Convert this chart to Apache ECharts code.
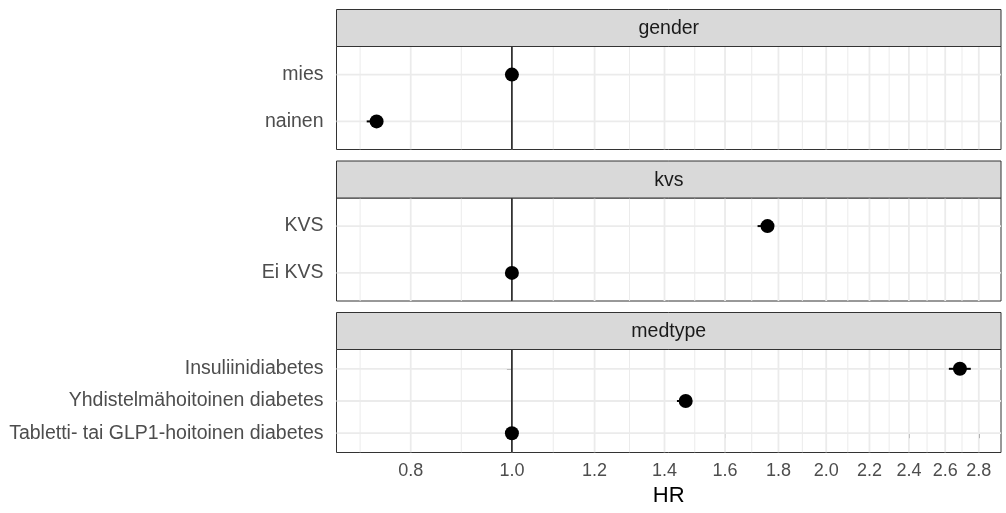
<!DOCTYPE html>
<html>
<head>
<meta charset="utf-8">
<script src="https://cdn.jsdelivr.net/npm/echarts@6/dist/echarts.min.js"></script>
<style>
  html, body { margin: 0; padding: 0; background: #ffffff; }
  #chart { width: 1006px; height: 513px; }
</style>
</head>
<body>
<div id="chart"></div>
<script>
// Hazard ratios with confidence limits, one facet per covariate
const panelNames = ['gender', 'kvs', 'medtype'];

const genderLevels = ['nainen', 'mies'];
const genderHR   = [0.742, 1.0];
const genderLow  = [0.726, 1.0];
const genderHigh = [0.752, 1.0];

const kvsLevels = ['Ei KVS', 'KVS'];
const kvsHR   = [1.0, 1.757];
const kvsLow  = [1.0, 1.719];
const kvsHigh = [1.0, 1.78];

const medLevels = ['Tabletti- tai GLP1-hoitoinen diabetes', 'Yhdistelmähoitoinen diabetes', 'Insuliinidiabetes'];
const medHR   = [1.0, 1.467, 2.686];
const medLow  = [1.0, 1.439, 2.621];
const medHigh = [1.0, 1.487, 2.751];

const hrTicks = [0.8, 1.0, 1.2, 1.4, 1.6, 1.8, 2.0, 2.2, 2.4, 2.6, 2.8];

const panels = [
  { name: panelNames[0], levels: genderLevels, hr: genderHR, lo: genderLow, hi: genderHigh },
  { name: panelNames[1], levels: kvsLevels, hr: kvsHR, lo: kvsLow, hi: kvsHigh },
  { name: panelNames[2], levels: medLevels, hr: medHR, lo: medLow, hi: medHigh }
];

// log-scale x axis: everything is plotted as ln(HR)
const ln = Math.log;
const allLo = [].concat(genderLow, kvsLow, medLow).map(ln);
const allHi = [].concat(genderHigh, kvsHigh, medHigh).map(ln);
const dMin = Math.min.apply(null, allLo), dMax = Math.max.apply(null, allHi);
const pad = (dMax - dMin) * 0.05;
const xMin = dMin - pad, xMax = dMax + pad;

const majorLn = hrTicks.map(ln);
const minorLn = [];
minorLn.push(majorLn[0] - (majorLn[1] - majorLn[0]) / 2);
for (let i = 0; i < majorLn.length - 1; i++) minorLn.push((majorLn[i] + majorLn[i + 1]) / 2);

// layout
const FONT = "'Liberation Sans', Arial, Helvetica, sans-serif";
const LEFT = 336.5, RIGHT_EDGE = 1001;
const STRIP_H = 37, PANEL_H = 103;
const panelTops = [46.5, 198, 349.5];
const GRID_COLOR = '#EBEBEB';

const grids = [], xAxes = [], yAxes = [], series = [], graphics = [];

function vLineItem(color, width, yLo, yHi) {
  return function (params, api) {
    const v = api.value(0);
    const a = api.coord([v, yLo]);
    const b = api.coord([v, yHi]);
    return { type: 'line', shape: { x1: a[0], y1: a[1], x2: b[0], y2: b[1] },
             style: { stroke: color, lineWidth: width } };
  };
}

panels.forEach(function (p, gi) {
  const n = p.levels.length;
  const yLo = -0.6, yHi = n - 0.4;
  const cats = p.levels.map(function (_, i) { return i; });
  const isBottom = gi === panels.length - 1;

  grids.push({
    left: LEFT, width: RIGHT_EDGE - LEFT, top: panelTops[gi], height: PANEL_H,
    show: true, borderColor: '#333333', borderWidth: 1, backgroundColor: 'transparent'
  });

  xAxes.push({
    gridIndex: gi, type: 'value', min: xMin, max: xMax,
    axisLine: { show: false },
    splitLine: { show: false },
    axisTick: { show: isBottom, customValues: majorLn, length: 5, lineStyle: { color: '#333333', width: 1 } },
    axisLabel: {
      show: isBottom, customValues: majorLn, margin: 10,
      color: '#4D4D4D', fontSize: 18, fontFamily: FONT,
      formatter: function (v) { return Math.exp(v).toFixed(1); }
    },
    name: isBottom ? 'HR' : '',
    nameLocation: 'middle', nameGap: 32,
    nameTextStyle: { color: '#000000', fontSize: 22, fontFamily: FONT }
  });

  yAxes.push({
    gridIndex: gi, type: 'value', min: yLo, max: yHi,
    axisLine: { show: false },
    splitLine: { show: false },
    axisTick: { show: true, customValues: cats, length: 5, lineStyle: { color: '#333333', width: 1 } },
    axisLabel: {
      customValues: cats, margin: 13,
      color: '#4D4D4D', fontSize: 19.5, fontFamily: FONT,
      formatter: function (v) { return p.levels[Math.round(v)]; }
    }
  });

  // minor vertical grid
  series.push({
    type: 'custom', xAxisIndex: gi, yAxisIndex: gi, silent: true, z: 1, clip: true,
    data: minorLn.map(function (v) { return [v, 0]; }),
    renderItem: vLineItem(GRID_COLOR, 1, yLo, yHi)
  });
  // major vertical grid
  series.push({
    type: 'custom', xAxisIndex: gi, yAxisIndex: gi, silent: true, z: 1, clip: true,
    data: majorLn.map(function (v) { return [v, 0]; }),
    renderItem: vLineItem(GRID_COLOR, 1.8, yLo, yHi)
  });
  // horizontal grid at each level
  series.push({
    type: 'custom', xAxisIndex: gi, yAxisIndex: gi, silent: true, z: 1, clip: true,
    data: cats.map(function (i) { return [0, i]; }),
    renderItem: function (params, api) {
      const y = api.value(1);
      const a = api.coord([xMin, y]);
      const b = api.coord([xMax, y]);
      return { type: 'line', shape: { x1: a[0], y1: a[1], x2: b[0], y2: b[1] },
               style: { stroke: GRID_COLOR, lineWidth: 1.8 } };
    }
  });
  // reference line at HR = 1
  series.push({
    type: 'custom', xAxisIndex: gi, yAxisIndex: gi, silent: true, z: 3, clip: true,
    data: [[0, 0]],
    renderItem: vLineItem('#111111', 1.5, yLo, yHi)
  });
  // confidence intervals
  series.push({
    type: 'custom', xAxisIndex: gi, yAxisIndex: gi, silent: true, z: 4,
    data: cats.map(function (i) { return [ln(p.lo[i]), i, ln(p.hi[i])]; }),
    renderItem: function (params, api) {
      const y = api.value(1);
      const a = api.coord([api.value(0), y]);
      const b = api.coord([api.value(2), y]);
      return { type: 'line', shape: { x1: a[0], y1: a[1], x2: b[0], y2: b[1] },
               style: { stroke: '#000000', lineWidth: 2 } };
    }
  });
  // point estimates
  series.push({
    type: 'scatter', xAxisIndex: gi, yAxisIndex: gi, silent: true, z: 5,
    symbol: 'circle', symbolSize: 14,
    itemStyle: { color: '#000000', opacity: 1 },
    data: cats.map(function (i) { return [ln(p.hr[i]), i]; })
  });

  // facet strip
  const sTop = panelTops[gi] - STRIP_H;
  graphics.push({
    type: 'rect', silent: true, z: 10,
    shape: { x: LEFT, y: sTop, width: RIGHT_EDGE - LEFT, height: STRIP_H },
    style: { fill: '#D9D9D9', stroke: '#333333', lineWidth: 1 }
  });
  graphics.push({
    type: 'text', silent: true, z: 11,
    x: (LEFT + RIGHT_EDGE) / 2, y: sTop + STRIP_H / 2 + 1,
    style: { text: p.name, fill: '#1A1A1A', font: '19.5px ' + FONT,
             align: 'center', verticalAlign: 'middle',
             textAlign: 'center', textVerticalAlign: 'middle' }
  });
});

const chart = echarts.init(document.getElementById('chart'), null, { renderer: 'canvas' });
chart.setOption({
  animation: false,
  backgroundColor: '#ffffff',
  textStyle: { fontFamily: FONT },
  grid: grids,
  xAxis: xAxes,
  yAxis: yAxes,
  series: series,
  graphic: { elements: graphics }
});
</script>
</body>
</html>
